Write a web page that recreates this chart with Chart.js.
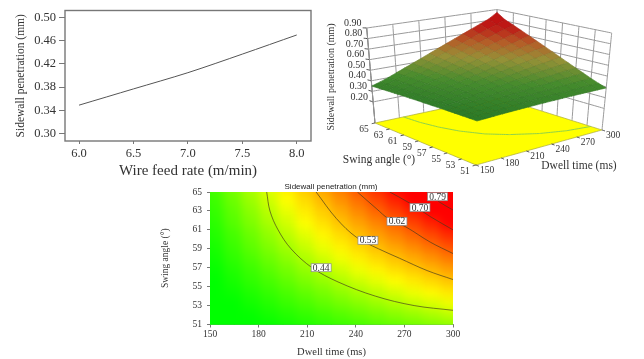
<!DOCTYPE html>
<html>
<head>
<meta charset="utf-8">
<title>Sidewall penetration</title>
<script src="https://cdn.jsdelivr.net/npm/chart.js@4/dist/chart.umd.min.js"></script>
<style>
  html, body { margin: 0; padding: 0; background: #fff; }
  body { width: 644px; height: 359px; position: relative; overflow: hidden; }
  canvas { position: absolute; filter: blur(0.4px); }
  #lineChart { left: 0; top: 0; }
  #surfaceChart { left: 320px; top: 0; }
  #contourChart { left: 150px; top: 175px; }
</style>
</head>
<body>
<canvas id="lineChart" width="320" height="180"></canvas>
<canvas id="surfaceChart" width="324" height="180"></canvas>
<canvas id="contourChart" width="320" height="184"></canvas>
<script>
// top left line
const feedRate = [6.0, 6.5, 7.0, 7.5, 8.0];
const linePenetration = [0.349, 0.377, 0.405, 0.437, 0.470];
const feedTicks = [6.0, 6.5, 7.0, 7.5, 8.0];
const penetrationTicks = [0.30, 0.34, 0.38, 0.42, 0.46, 0.50];

// response surface, rows are swing angle, columns dwell time
const dwellGrid = [150, 160, 170, 180, 190, 200, 210, 220, 230, 240, 250, 260, 270, 280, 290, 300];
const swingGrid = [51, 52, 53, 54, 55, 56, 57, 58, 59, 60, 61, 62, 63, 64, 65];
const penetrationGrid = [
  [.300, .306, .312, .318, .324, .330, .336, .342, .348, .354, .360, .366, .372, .378, .384, .390],
  [.304, .311, .318, .325, .332, .340, .347, .354, .362, .369, .377, .384, .391, .399, .406, .414],
  [.307, .315, .323, .332, .341, .349, .358, .367, .376, .385, .395, .404, .413, .422, .432, .441],
  [.311, .320, .330, .340, .350, .361, .371, .382, .393, .404, .415, .426, .437, .448, .460, .471],
  [.314, .324, .336, .347, .359, .371, .384, .396, .409, .422, .435, .448, .461, .474, .488, .501],
  [.318, .330, .342, .356, .369, .383, .398, .412, .427, .442, .456, .472, .487, .502, .518, .533],
  [.321, .334, .348, .363, .379, .395, .411, .427, .444, .461, .478, .496, .513, .530, .548, .566],
  [.325, .339, .355, .372, .390, .407, .426, .444, .463, .482, .501, .521, .540, .560, .580, .600],
  [.329, .344, .362, .381, .400, .420, .440, .460, .481, .503, .524, .546, .567, .589, .612, .634],
  [.332, .349, .368, .389, .410, .432, .454, .477, .500, .523, .547, .571, .595, .619, .644, .669],
  [.336, .354, .376, .398, .421, .445, .469, .494, .519, .545, .570, .597, .623, .650, .677, .704],
  [.339, .359, .382, .406, .431, .457, .484, .510, .538, .566, .594, .623, .652, .681, .710, .740],
  [.343, .364, .389, .415, .442, .470, .499, .528, .558, .588, .619, .650, .681, .713, .745, .777],
  [.346, .369, .395, .423, .452, .482, .513, .544, .576, .609, .642, .675, .709, .743, .777, .812],
  [.350, .374, .401, .432, .464, .496, .529, .563, .597, .632, .667, .703, .739, .776, .813, .870]
];
const dwellTicks = [150, 180, 210, 240, 270, 300];
const swingTicks = [51, 53, 55, 57, 59, 61, 63, 65];
const swingTicks3d = [65, 63, 61, 59, 57, 55, 53, 51];
const heightTicks = [0.20, 0.30, 0.40, 0.50, 0.60, 0.70, 0.80, 0.90];

// contour lines
const contour044Dwell = [185, 187, 192, 200, 213, 229, 252, 276, 300];
const contour044Swing = [65, 63, 61, 59, 57, 55.5, 54, 53, 52.5];
const contour053Dwell = [215.5, 228, 240.5, 254, 267, 284, 300];
const contour053Swing = [65, 62.2, 60.2, 59, 58, 56.7, 55.75];
const contour062Dwell = [241, 253, 260, 271, 286, 300];
const contour062Swing = [65, 63.2, 62.2, 61.3, 59.7, 58.5];
const contour070Dwell = [261, 273.5, 286, 300];
const contour070Swing = [65, 63.8, 62.4, 61];
const contour079Dwell = [284, 292, 300];
const contour079Swing = [65, 63.9, 63.1];
const contourLevels = ["0.44", "0.53", "0.62", "0.70", "0.79"];
const levelDwell = [218.6, 247.5, 265.4, 279.6, 290.5];
const levelSwing = [57.0, 59.9, 61.9, 63.35, 64.5];

const SERIF = '"Liberation Serif", serif';
const TEXT = "#333";
Chart.defaults.font.family = SERIF;
Chart.defaults.color = TEXT;
Chart.defaults.animation = false;

function pairs(xs, ys) {
  return xs.map((x, i) => ({ x, y: ys[i] }));
}

function mix(a, b, t) {
  return a.map((v, i) => Math.round(v + (b[i] - v) * t));
}

function rampRgb(stops, z) {
  let c = stops[0][1];
  if (z >= stops[stops.length - 1][0]) c = stops[stops.length - 1][1];
  else for (let i = 1; i < stops.length; i++) {
    if (z >= stops[i - 1][0] && z < stops[i][0]) {
      c = mix(stops[i - 1][1], stops[i][1], (z - stops[i - 1][0]) / (stops[i][0] - stops[i - 1][0]));
    }
  }
  return c;
}

function css(c) {
  return `rgb(${c[0]},${c[1]},${c[2]})`;
}

const heatStops = [[0.33, [0, 255, 0]], [0.47, [255, 255, 0]], [0.68, [255, 0, 0]]];
const surfaceStops = [[0.30, [44, 122, 40]], [0.42, [70, 140, 45]], [0.55, [150, 145, 55]], [0.65, [180, 95, 40]], [0.76, [190, 25, 22]], [0.88, [190, 15, 15]]];

// ---- line chart
new Chart(document.getElementById("lineChart"), {
  type: "scatter",
  data: {
    datasets: [{
      data: pairs(feedRate, linePenetration),
      showLine: true,
      tension: 0.3,
      borderColor: "#555",
      borderWidth: 1,
      pointRadius: 0
    }]
  },
  options: {
    responsive: false,
    events: [],
    layout: { padding: { top: 6, right: 9, left: 14 } },
    plugins: { legend: { display: false }, tooltip: { enabled: false } },
    scales: {
      x: {
        min: 5.871,
        max: 8.131,
        afterFit: s => { s.height = 39; },
        afterBuildTicks: s => { s.ticks = feedTicks.map(value => ({ value })); },
        ticks: { font: { size: 12.5 }, padding: 2, maxRotation: 0, callback: v => Number(v).toFixed(1) },
        grid: { drawOnChartArea: false, tickLength: 3, color: "#777" },
        border: { display: false },
        title: { display: true, text: "Wire feed rate (m/min)", font: { size: 15 }, padding: { top: 0, bottom: 0 } }
      },
      y: {
        min: 0.2872,
        max: 0.5122,
        afterFit: s => { s.width = 51; },
        afterBuildTicks: s => { s.ticks = penetrationTicks.map(value => ({ value })); },
        ticks: { font: { size: 12.5 }, padding: 3, callback: v => Number(v).toFixed(2) },
        grid: { drawOnChartArea: false, tickLength: 6, color: "#777" },
        border: { display: false },
        title: { display: true, text: "Sidewall penetration (mm)", font: { size: 11.5 }, padding: { top: 0, bottom: 0 } }
      }
    }
  },
  plugins: [{
    id: "frame",
    afterDraw(chart) {
      const { left, top, width, height } = chart.chartArea;
      chart.ctx.save();
      chart.ctx.strokeStyle = "#777";
      chart.ctx.lineWidth = 1.4;
      chart.ctx.strokeRect(left, top, width, height);
      chart.ctx.restore();
    }
  }]
});

// ---- 3D surface, hidden scales run in window pixels and project() maps
// dwell, swing and height onto the box
const boxFloor = { front: [476, 165], right: [602, 130], left: [375, 123], back: [497, 97] };
const boxTop = { front: [479, 33], right: [611.7, 33], left: [366.7, 28], back: [497, 9.5] };

function project(dwell, swing, z) {
  const u = (dwell - 150) / 150, v = (swing - 51) / 14, w = z / 0.9;
  const at = (box, i) =>
    box.front[i] * (1 - u) * (1 - v) + box.right[i] * u * (1 - v) +
    box.left[i] * (1 - u) * v + box.back[i] * u * v;
  return {
    x: at(boxFloor, 0) * (1 - w) + at(boxTop, 0) * w,
    y: at(boxFloor, 1) * (1 - w) + at(boxTop, 1) * w
  };
}

function pathSet(points, color, width, order, fillColor) {
  return {
    data: points,
    showLine: true,
    tension: 0.001,
    borderColor: color,
    borderWidth: width,
    pointRadius: 0,
    fill: fillColor ? "shape" : false,
    backgroundColor: fillColor,
    order
  };
}

const surfaceSets = [];
const WALL = "#9a9a9a";
const AXIS = "#444";

// back walls
dwellTicks.forEach(d => surfaceSets.push(pathSet([project(d, 65, 0), project(d, 65, 0.9)], WALL, 1, 4)));
swingTicks.forEach(s => surfaceSets.push(pathSet([project(300, s, 0), project(300, s, 0.9)], WALL, 1, 4)));
heightTicks.forEach(z => {
  surfaceSets.push(pathSet([project(150, 65, z), project(300, 65, z), project(300, 51, z)], WALL, 1, 4));
  surfaceSets.push(pathSet([project(150, 65, z), project(150, 65.5, z)], AXIS, 1, 4));
});
surfaceSets.push(pathSet([project(150, 65, 0), project(150, 65, 0.9)], AXIS, 1, 4));

// floor with its contour
surfaceSets.push(pathSet(
  [project(150, 51, 0), project(300, 51, 0), project(300, 65, 0), project(150, 65, 0), project(150, 51, 0)],
  "#a8a83a", 0.7, 3, "#ffff00"
));
surfaceSets.push(pathSet(contour044Dwell.map((d, i) => project(d, contour044Swing[i], 0)), "#8fd24a", 1, 2));
dwellTicks.forEach(d => surfaceSets.push(pathSet([project(d, 51, 0), project(d, 50.6, 0)], AXIS, 1, 2)));
swingTicks.forEach(s => surfaceSets.push(pathSet([project(150, s, 0), project(146, s, 0)], AXIS, 1, 2)));

// surface patches, the slightly darker edge stands in for the dotted mesh
for (let j = 0; j < swingGrid.length - 1; j++) {
  for (let k = 0; k < dwellGrid.length - 1; k++) {
    const a = penetrationGrid[j][k], b = penetrationGrid[j][k + 1];
    const c = penetrationGrid[j + 1][k + 1], d = penetrationGrid[j + 1][k];
    const rgb = rampRgb(surfaceStops, (a + b + c + d) / 4);
    surfaceSets.push(pathSet([
      project(dwellGrid[k], swingGrid[j], a),
      project(dwellGrid[k + 1], swingGrid[j], b),
      project(dwellGrid[k + 1], swingGrid[j + 1], c),
      project(dwellGrid[k], swingGrid[j + 1], d),
      project(dwellGrid[k], swingGrid[j], a)
    ], css(mix(rgb, [0, 0, 0], 0.08)), 0.7, 1, css(rgb)));
  }
}

new Chart(document.getElementById("surfaceChart"), {
  type: "scatter",
  data: { datasets: surfaceSets },
  options: {
    responsive: false,
    events: [],
    plugins: { legend: { display: false }, tooltip: { enabled: false } },
    scales: {
      x: { display: false, min: 320, max: 644 },
      y: { display: false, min: 0, max: 180, reverse: true }
    }
  },
  plugins: [{
    id: "boxLabels",
    afterDraw(chart) {
      const ctx = chart.ctx;
      const put = (str, x, y, size, rot) => {
        ctx.save();
        ctx.translate(x - 320, y);
        if (rot) ctx.rotate(rot);
        ctx.font = `${size}px ${SERIF}`;
        ctx.fillStyle = TEXT;
        ctx.textAlign = "center";
        ctx.textBaseline = "middle";
        ctx.fillText(str, 0, 0);
        ctx.restore();
      };
      heightTicks.forEach(z => {
        const p = project(150, 65, z);
        put(z.toFixed(2), p.x - 14, p.y - 5, 10);
      });
      swingTicks3d.forEach(s => {
        const p = project(150, s, 0);
        put(String(s), p.x - 11, p.y + 6, 9.5);
      });
      dwellTicks.forEach(d => {
        const p = project(d, 51, 0);
        put(String(d), p.x + 11, p.y + 5, 9.5);
      });
      put("Sidewall penetration (mm)", 331.5, 77, 10, -Math.PI / 2);
      put("Swing angle (°)", 379, 160, 11.5);
      put("Dwell time (ms)", 579, 166, 11.5);
    }
  }]
});

// ---- contour map
const heatSets = [];
swingGrid.forEach((swing, j) => {
  dwellGrid.forEach((dwell, k) => {
    const color = css(rampRgb(heatStops, penetrationGrid[j][k]));
    heatSets.push({
      data: [
        { x: dwell - 5, y: swing - 0.5 }, { x: dwell + 5, y: swing - 0.5 },
        { x: dwell + 5, y: swing + 0.5 }, { x: dwell - 5, y: swing + 0.5 },
        { x: dwell - 5, y: swing - 0.5 }
      ],
      showLine: true,
      tension: 0.001,
      borderWidth: 0.5,
      borderColor: color,
      backgroundColor: color,
      fill: "shape",
      pointRadius: 0,
      order: 1
    });
  });
});

const contourLines = [
  [contour044Dwell, contour044Swing],
  [contour053Dwell, contour053Swing],
  [contour062Dwell, contour062Swing],
  [contour070Dwell, contour070Swing],
  [contour079Dwell, contour079Swing]
].map(([d, s]) => ({
  data: pairs(d, s),
  showLine: true,
  tension: 0.35,
  borderColor: "rgba(70,60,30,0.85)",
  borderWidth: 0.8,
  pointRadius: 0,
  order: 0
}));

new Chart(document.getElementById("contourChart"), {
  type: "scatter",
  data: { datasets: heatSets.concat(contourLines) },
  options: {
    responsive: false,
    events: [],
    layout: { padding: { top: 17, right: 17, left: 10 } },
    plugins: { legend: { display: false }, tooltip: { enabled: false } },
    scales: {
      x: {
        min: 150,
        max: 300,
        afterFit: s => { s.height = 34.5; },
        afterBuildTicks: s => { s.ticks = dwellTicks.map(value => ({ value })); },
        ticks: { font: { size: 9.5 }, padding: 1, maxRotation: 0 },
        grid: { drawOnChartArea: false, tickLength: 3, color: "#777" },
        border: { color: "#888" },
        title: { display: true, text: "Dwell time (ms)", font: { size: 10.5 }, padding: { top: 4, bottom: 0 } }
      },
      y: {
        min: 51,
        max: 65,
        afterFit: s => { s.width = 50; },
        afterBuildTicks: s => { s.ticks = swingTicks.map(value => ({ value })); },
        ticks: { font: { size: 9.5 }, padding: 5 },
        grid: { drawOnChartArea: false, tickLength: 3, color: "#777" },
        border: { color: "#888" },
        title: { display: true, text: "Swing angle (°)", font: { size: 9.5 }, padding: { top: 0, bottom: 4 } }
      }
    }
  },
  plugins: [{
    id: "heatSmooth",
    // patches are drawn from dataset index down to 0, soften them before the lines go on
    afterDatasetDraw(chart, args) {
      if (args.index !== 0) return;
      const { left, top, width, height } = chart.chartArea;
      const ctx = chart.ctx;
      ctx.save();
      ctx.beginPath();
      ctx.rect(left, top, width, height);
      ctx.clip();
      ctx.filter = "blur(5px)";
      ctx.drawImage(chart.canvas, left, top, width, height, left - 14, top - 14, width + 28, height + 28);
      ctx.restore();
    },
    afterDraw(chart) {
      const ctx = chart.ctx;
      // heading sits right of the plot centre in the original
      ctx.save();
      ctx.fillStyle = "#222";
      ctx.font = '8px "Liberation Sans", sans-serif';
      ctx.textAlign = "center";
      ctx.textBaseline = "middle";
      ctx.fillText("Sidewall penetration (mm)", 181, 12);
      ctx.restore();
      contourLevels.forEach((text, i) => {
        const x = chart.scales.x.getPixelForValue(levelDwell[i]);
        const y = chart.scales.y.getPixelForValue(levelSwing[i]);
        ctx.save();
        ctx.fillStyle = "#fff";
        ctx.strokeStyle = "#888";
        ctx.lineWidth = 0.7;
        ctx.fillRect(x - 10, y - 4, 20, 8);
        ctx.strokeRect(x - 10, y - 4, 20, 8);
        ctx.fillStyle = "#333";
        ctx.font = `9.5px ${SERIF}`;
        ctx.textAlign = "center";
        ctx.textBaseline = "middle";
        ctx.fillText(text, x, y + 0.5);
        ctx.restore();
      });
    }
  }]
});
</script>
</body>
</html>
